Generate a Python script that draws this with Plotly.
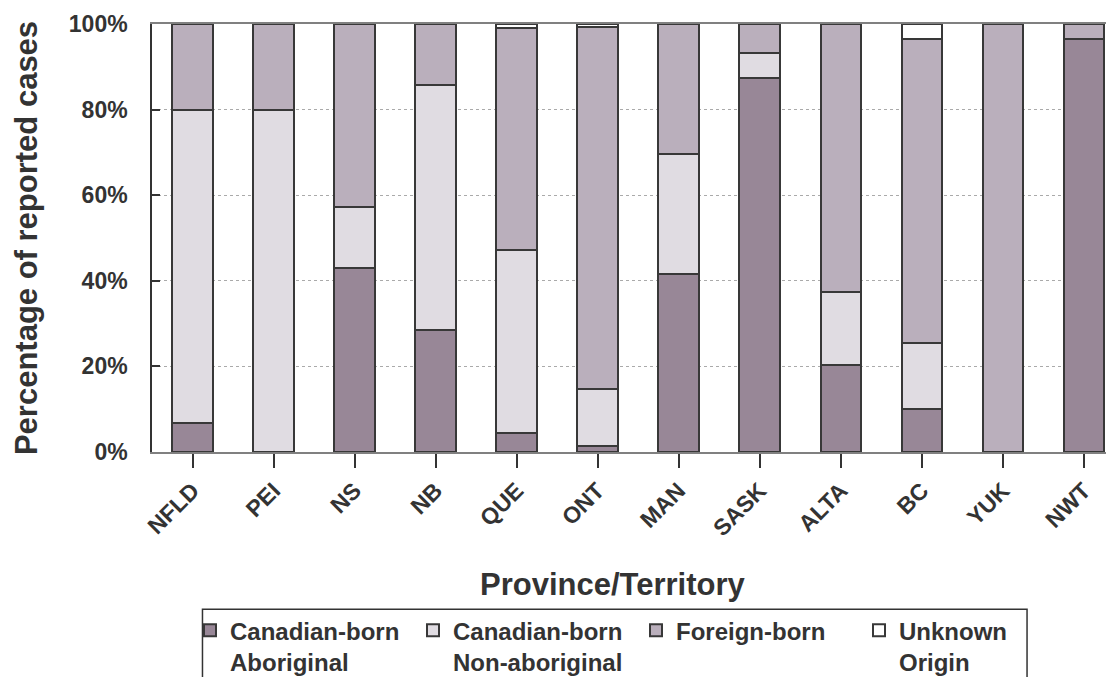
import plotly.graph_objects as go

provinces = ["NFLD", "PEI", "NS", "NB", "QUE", "ONT", "MAN", "SASK", "ALTA", "BC", "YUK", "NWT"]
aboriginal = [6.7, 0, 42.9, 28.6, 4.4, 1.3, 41.6, 87.5, 20.4, 10.1, 0, 96.6]
non_aboriginal = [73.3, 80, 14.3, 57.1, 42.9, 13.5, 28.1, 5.8, 16.9, 15.4, 0, 0]
foreign_born = [20, 20, 42.8, 14.3, 51.8, 84.4, 30.3, 6.7, 62.7, 71.1, 100, 3.4]
unknown = [0, 0, 0, 0, 0.9, 0.8, 0, 0, 0, 3.4, 0, 0]
y_ticks = [0, 20, 40, 60, 80, 100]
y_tick_labels = ["0%", "20%", "40%", "60%", "80%", "100%"]

series = [
    ("Canadian-born<br>Aboriginal", aboriginal, "#988797"),
    ("Canadian-born<br>Non-aboriginal", non_aboriginal, "#e0dce2"),
    ("Foreign-born", foreign_born, "#baafbc"),
    ("Unknown<br>Origin", unknown, "#ffffff"),
]

FONT = "Liberation Sans, Arial, sans-serif"
TXT = "#333333"

fig = go.Figure()
for name, vals, col in series:
    fig.add_trace(go.Bar(
        x=provinces, y=vals, name=name,
        marker=dict(color=col, line=dict(color="#383838", width=2)),
    ))

# page body has an 8px margin; work in screen coordinates
OFF = 8
W, H = 1114, 677
left, top, bottom = 151.5, 23.5, 452.5
pw = W - left
ph = bottom - top

def px(x):
    return (x - left) / pw

def py(y):
    return (bottom - y) / ph

fig.update_layout(
    template="none",
    width=W - OFF, height=H - OFF,
    barmode="stack",
    bargap=0.5,
    paper_bgcolor="white",
    plot_bgcolor="white",
    font=dict(family=FONT, color=TXT, size=22),
    margin=dict(l=left - OFF, r=0, t=top - OFF, b=H - bottom, autoexpand=False),
    showlegend=True,
    legend=dict(
        orientation="h",
        x=px(189.5), xanchor="left",
        y=py(609), yanchor="top",
        bgcolor="rgba(0,0,0,0)",
        borderwidth=0,
        font=dict(family=FONT, size=24, color=TXT, weight="bold"),
        valign="top",
        traceorder="normal",
        itemwidth=30,
        entrywidth=178,
    ),
    xaxis=dict(
        range=[-0.5, 11.5 - 10.4 / 81.1],
        showline=True, linecolor="#808080", linewidth=2, mirror=True,
        ticks="outside", ticklen=14, tickcolor="#333333", tickwidth=1.5,
        tickangle=-45,
        tickfont=dict(family=FONT, size=23, color=TXT, weight="bold"),
        showgrid=False, zeroline=False, automargin=False,
    ),
    yaxis=dict(
        range=[0, 100],
        tickmode="array",
        tickvals=y_ticks,
        ticktext=y_tick_labels,
        showline=True, linecolor="#333333", linewidth=1.5,
        ticks="inside", ticklen=8, tickcolor="#333333", tickwidth=1.5,
        tickfont=dict(family=FONT, size=23, color=TXT, weight="bold"),
        ticklabelstandoff=18,
        showgrid=True, gridcolor="#aaaaaa", gridwidth=1, griddash="dot",
        zeroline=False, automargin=False,
        title=dict(text="Percentage of reported cases", standoff=22,
                   font=dict(family=FONT, size=31, color=TXT, weight="bold")),
    ),
    annotations=[
        dict(
            text="Province/Territory", xref="paper", yref="paper",
            x=px(613), y=py(585),
            xanchor="center", yanchor="middle", showarrow=False,
            font=dict(family=FONT, size=31, color=TXT, weight="bold"),
        )
    ],
    shapes=[
        dict(
            type="rect", xref="paper", yref="paper",
            x0=px(202), x1=px(1027), y0=py(610), y1=py(700),
            line=dict(color="#333333", width=1.5),
            fillcolor="rgba(0,0,0,0)", layer="above",
        )
    ],
)

fig.write_html("out.html")
